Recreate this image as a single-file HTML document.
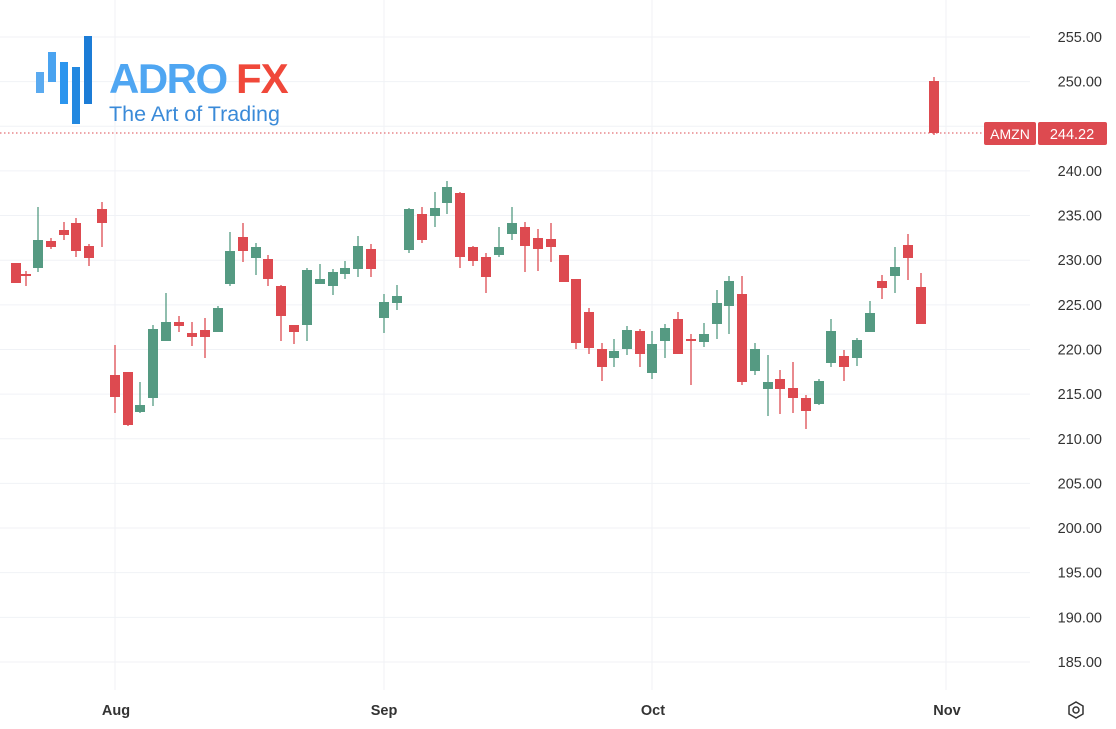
<!DOCTYPE html>
<html><head><meta charset="utf-8"><style>
html,body{margin:0;padding:0;background:#fff;}
svg{display:block;font-family:"Liberation Sans",sans-serif;}
</style></head><body>
<svg id="c" width="1116" height="729" viewBox="0 0 1116 729" xmlns="http://www.w3.org/2000/svg">
<g id="grid"></g>
<g id="candles"></g>
<line x1="0" y1="133" x2="984" y2="133" stroke="#dd4a50" stroke-width="1" stroke-dasharray="1.5,2.5"/>
<g id="labels" font-size="14.5" fill="#333"></g>
<rect x="984" y="122" width="52" height="23" rx="2" fill="#dd4a50"/>
<text x="1010" y="139" font-size="14" fill="#fff" text-anchor="middle">AMZN</text>
<rect x="1038" y="122" width="69" height="23" rx="2" fill="#dd4a50"/>
<text x="1072" y="139" font-size="14.5" fill="#fff" text-anchor="middle">244.22</text>
<g font-size="14.5" fill="#333" font-weight="bold" text-anchor="middle">
<text x="116" y="715">Aug</text><text x="384" y="715">Sep</text><text x="653" y="715">Oct</text><text x="947" y="715">Nov</text>
</g>
<g transform="translate(1076,710)" fill="none" stroke="#333" stroke-width="1.5">
<polygon points="0,-8 7,-4 7,4 0,8 -7,4 -7,-4"/><circle r="3"/>
</g>
<!-- logo -->
<rect x="36" y="72" width="8" height="21" fill="#5aaaf0"/>
<rect x="48" y="52" width="8" height="30" fill="#4aa3f0"/>
<rect x="60" y="62" width="8" height="42" fill="#2b95ee"/>
<rect x="72" y="67" width="8" height="57" fill="#2288e0"/>
<rect x="84" y="36" width="8" height="68" fill="#1c7cd6"/>
<text x="109" y="93" font-size="42" font-weight="bold" fill="#4fa6f2" letter-spacing="-1.5">ADRO</text>
<text x="236" y="93" font-size="42" font-weight="bold" fill="#f0483a" letter-spacing="-1">FX</text>
<text x="109" y="121" font-size="21.5" fill="#3a8ad8">The Art of Trading</text>
</svg>
<script>
var ns="http://www.w3.org/2000/svg";
function el(p,t,a){var e=document.createElementNS(ns,t);for(var k in a)e.setAttribute(k,a[k]);p.appendChild(e);return e;}
var g=document.getElementById('grid'),lb=document.getElementById('labels');
for(var k=0;k<15;k++){var y=37+k*44.64,p=255-5*k;
el(g,'line',{x1:0,x2:1030,y1:y,y2:y,stroke:'#f0f2f6','stroke-width':1});
if(p!==245){var t=el(lb,'text',{x:1102,y:y+5,'text-anchor':'end'});t.textContent=p.toFixed(2);}}
[115,384,652,946].forEach(function(x){el(g,'line',{x1:x,x2:x,y1:0,y2:690,stroke:'#f0f2f6','stroke-width':1});});
var R='#dd4a50',G='#559a82';
var d=[
[16,'r',263,283,263,283],[26,'r',271,286,274,276],[38,'g',207,272,240,268],[51,'r',238,249,241,247],[64,'r',222,240,230,235],[76,'r',218,257,223,251],[89,'r',244,266,246,258],[102,'r',202,247,209,223],
[115,'r',345,413,375,397],[128,'r',372,426,372,425],[140,'g',382,413,405,412],[153,'g',325,406,329,398],[166,'g',293,341,322,341],[179,'r',316,332,322,326],[192,'r',322,346,333,337],[205,'r',318,358,330,337],[218,'g',306,332,308,332],[230,'g',232,286,251,284],[243,'r',223,262,237,251],[256,'g',243,275,247,258],[268,'r',255,286,259,279],[281,'r',285,341,286,316],[294,'r',325,344,325,332],[307,'g',268,341,270,325],[320,'g',264,284,279,284],[333,'g',269,295,272,286],[345,'g',261,279,268,274],[358,'g',236,277,246,269],[371,'r',244,277,249,269],
[384,'g',294,333,302,318],[397,'g',285,310,296,303],[409,'g',208,253,209,250],[422,'r',207,243,214,240],[435,'g',192,227,208,216],[447,'g',181,214,187,203],[460,'r',192,268,193,257],[473,'r',246,266,247,261],[486,'r',253,293,257,277],[499,'g',227,257,247,255],[512,'g',207,240,223,234],[525,'r',222,272,227,246],[538,'r',229,271,238,249],[551,'r',223,262,239,247],[564,'r',255,282,255,282],[576,'r',279,349,279,343],[589,'r',308,354,312,348],[602,'r',343,381,349,367],[614,'g',339,367,351,358],[627,'g',326,355,330,349],[640,'r',329,367,331,354],[652,'g',331,379,344,373],[665,'g',324,358,328,341],[678,'r',312,354,319,354],[691,'r',334,385,339,341],
[704,'g',323,347,334,342],[717,'g',290,339,303,324],[729,'g',276,334,281,306],[742,'r',276,385,294,382],[755,'g',343,375,349,371],[768,'g',355,416,382,389],[780,'r',370,414,379,389],[793,'r',362,413,388,398],[806,'r',395,429,398,411],[819,'g',379,405,381,404],[831,'g',319,367,331,363],[844,'r',350,381,356,367],[857,'g',338,366,340,358],[870,'g',301,332,313,332],[882,'r',275,299,281,288],[895,'g',247,293,267,276],[908,'r',234,280,245,258],[921,'r',273,324,287,324],[934,'r',77,135,81,133]];
var c=document.getElementById('candles');
d.forEach(function(a){var col=a[1]=='r'?R:G;
el(c,'line',{x1:a[0],x2:a[0],y1:a[2],y2:a[3],stroke:col,'stroke-width':1.3});
el(c,'rect',{x:a[0]-5,y:a[4],width:10,height:Math.max(2,a[5]-a[4]),fill:col});});
</script>
</body></html>
